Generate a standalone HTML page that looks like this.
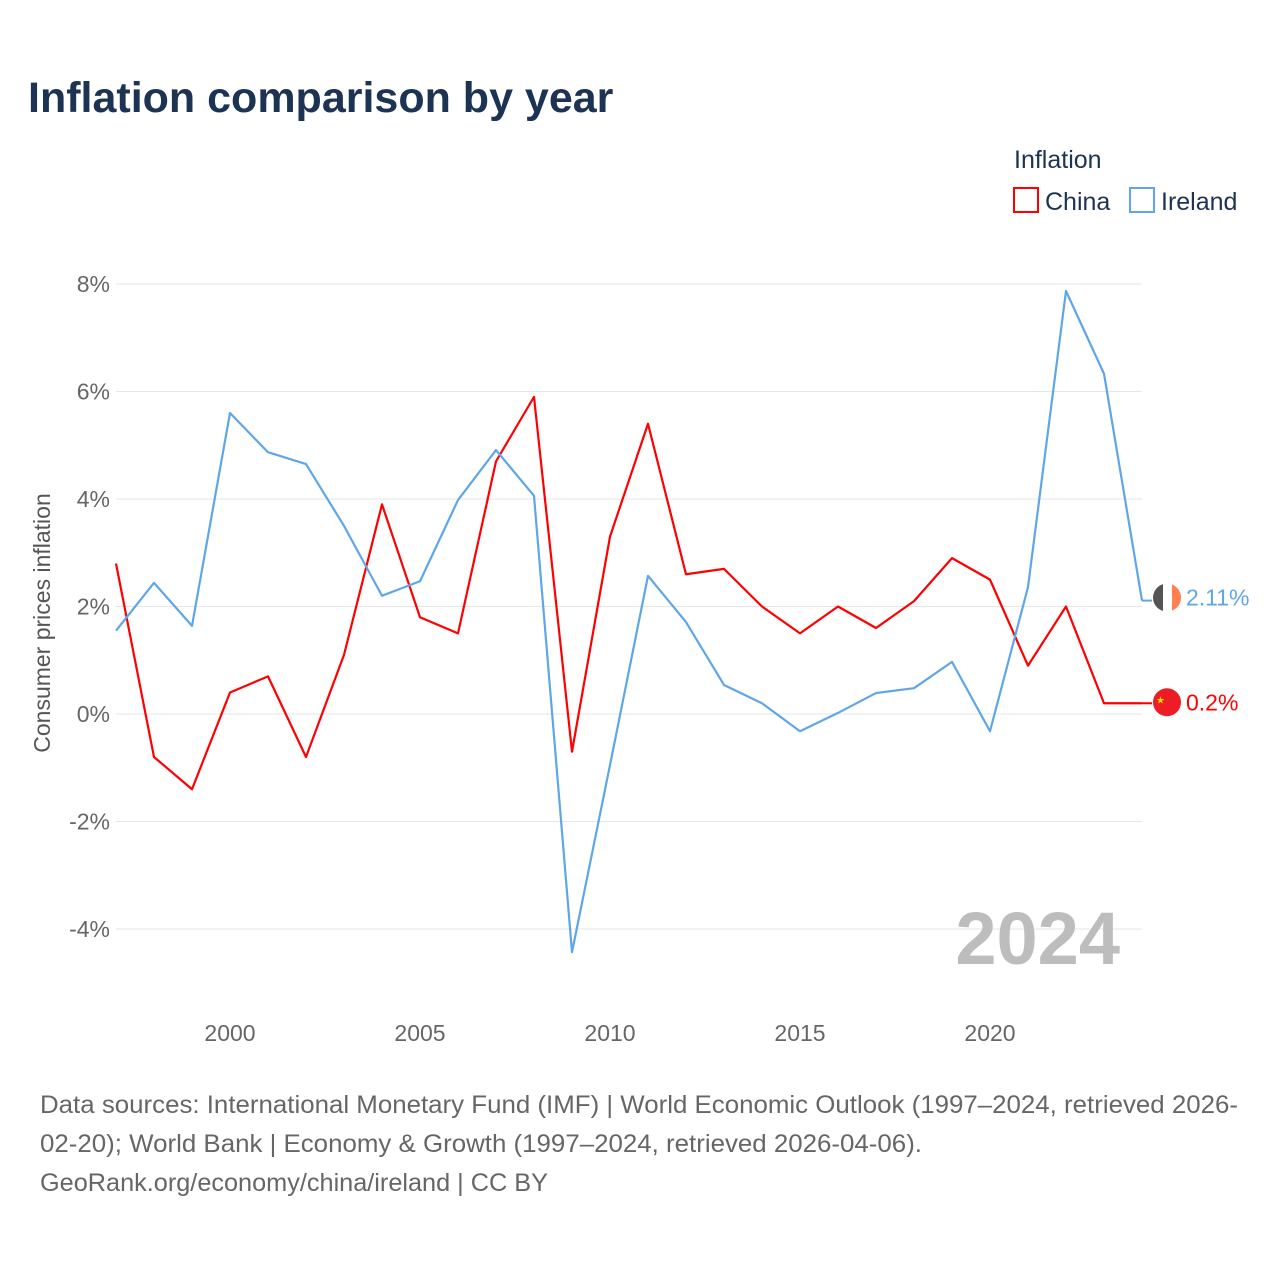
<!DOCTYPE html>
<html><head><meta charset="utf-8">
<style>
body{margin:0;background:#fff;font-family:"Liberation Sans",sans-serif;}
#wrap{position:relative;width:1280px;height:1280px;overflow:hidden;}
</style></head>
<body>
<div id="wrap">
<svg id="chart" width="1280" height="1280">
  <text x="28" y="112" font-size="43" font-weight="bold" fill="#1d3353">Inflation comparison by year</text>
  <text x="1014" y="168" font-size="25" fill="#1d3353">Inflation</text>
  <g>
    <rect x="1014" y="188" width="24" height="24" fill="none" stroke="#ff0000" stroke-width="2"/>
    <text x="1045" y="210" font-size="25" fill="#1d3353">China</text>
  </g>
  <g>
    <rect x="1130" y="188" width="24" height="24" fill="none" stroke="#5fa6e8" stroke-width="2"/>
    <text x="1161" y="210" font-size="25" fill="#1d3353">Ireland</text>
  </g>
  <g id="grid"></g>
  <g id="xticks"></g>
  <g id="series"></g>
  <text x="1120" y="964" text-anchor="end" font-size="74" font-weight="bold" fill="#bdbdbd">2024</text>
  <text transform="translate(50,623) rotate(-90)" text-anchor="middle" font-size="23" fill="#555">Consumer prices inflation</text>
  <g font-size="25" fill="#666">
    <text x="40" y="1113" textLength="1198" lengthAdjust="spacingAndGlyphs">Data sources: International Monetary Fund (IMF) | World Economic Outlook (1997–2024, retrieved 2026-</text>
    <text x="40" y="1152" textLength="882" lengthAdjust="spacingAndGlyphs">02-20); World Bank | Economy &amp; Growth (1997–2024, retrieved 2026-04-06).</text>
    <text x="40" y="1191" textLength="508" lengthAdjust="spacingAndGlyphs">GeoRank.org/economy/china/ireland | CC BY</text>
  </g>
</svg>
</div>
<script>
const years=[1997,1998,1999,2000,2001,2002,2003,2004,2005,2006,2007,2008,2009,2010,2011,2012,2013,2014,2015,2016,2017,2018,2019,2020,2021,2022,2023,2024];
const china=[2.8,-0.8,-1.4,0.4,0.7,-0.8,1.1,3.9,1.8,1.5,4.7,5.9,-0.7,3.3,5.4,2.6,2.7,2.0,1.5,2.0,1.6,2.1,2.9,2.5,0.9,2.0,0.2,0.2];
const ireland=[1.55,2.44,1.64,5.6,4.87,4.65,3.5,2.2,2.47,3.98,4.91,4.06,-4.43,-0.95,2.57,1.71,0.54,0.2,-0.32,0.02,0.39,0.48,0.97,-0.32,2.36,7.87,6.33,2.11];
const yTicks=[-4,-2,0,2,4,6,8];
const yTickLabels=["-4%","-2%","0%","2%","4%","6%","8%"];
const xTicks=[2000,2005,2010,2015,2020];
const endLabels=["0.2%","2.11%"];

const NS="http://www.w3.org/2000/svg";
const X=y=>116+(y-1997)*38;
const Y=v=>714-v*53.75;
function mk(t,a,p){const e=document.createElementNS(NS,t);for(const k in a)e.setAttribute(k,a[k]);p.appendChild(e);return e;}
const grid=document.getElementById('grid');
yTicks.forEach((v,i)=>{
  const l=mk('line',{x1:116,x2:1142,y1:Y(v),y2:Y(v),stroke:'#e6e6e6','stroke-width':1},grid);
  
  
  const t=mk('text',{x:110,y:Y(v)+8,'text-anchor':'end','font-size':23,fill:'#666'},grid);
  t.textContent=yTickLabels[i];
  
  
});
const xt=document.getElementById('xticks');
xTicks.forEach(y=>{
  const t=mk('text',{x:X(y),y:1041,'text-anchor':'middle','font-size':23,fill:'#666'},xt);
  t.textContent=y;
  
  
});
const s=document.getElementById('series');
function line(vals,color,name){
  const d=vals.map((v,i)=>(i?'L':'M')+X(years[i])+','+Y(v)).join(' ');
  const p=mk('path',{d:d,fill:'none',stroke:color,'stroke-width':2.2,'stroke-linejoin':'round'},s);
  
  
}
line(china,'#ff0000','china-line');
line(ireland,'#5fa6e8','ireland-line');
const lastC=china[china.length-1], lastI=ireland[ireland.length-1];
mk('line',{x1:1142,x2:1152,y1:Y(lastC),y2:Y(lastC),stroke:'#ff0000','stroke-width':2},s);
mk('line',{x1:1142,x2:1152,y1:Y(lastI),y2:Y(lastI),stroke:'#5fa6e8','stroke-width':2},s);
const ccy=Y(lastC)-1;
const fc=mk('circle',{cx:1167,cy:ccy,r:14,fill:'#ee1c25'},s);


const st=mk('text',{x:1156,y:ccy+1,'font-size':10,fill:'#ffde00'},s);st.textContent='★';
const gi=mk('g',{},s);


const cy=Y(lastI)-3;
const cp=mk('clipPath',{id:'ic'},gi);
mk('circle',{cx:1167,cy:cy,r:14},cp);
const g2=mk('g',{'clip-path':'url(#ic)'},gi);
mk('rect',{x:1153,y:cy-14,width:10,height:28,fill:'#555'},g2);
mk('rect',{x:1163,y:cy-14,width:9,height:28,fill:'#fff'},g2);
mk('rect',{x:1172,y:cy-14,width:10,height:28,fill:'#ff7f50'},g2);
const lc=mk('text',{x:1186,y:ccy+8,'font-size':23,fill:'#ff0000'},s);lc.textContent=endLabels[0];


const li=mk('text',{x:1186,y:cy+8,'font-size':23,fill:'#5fa6e8'},s);li.textContent=endLabels[1];


</script>
</body></html>
